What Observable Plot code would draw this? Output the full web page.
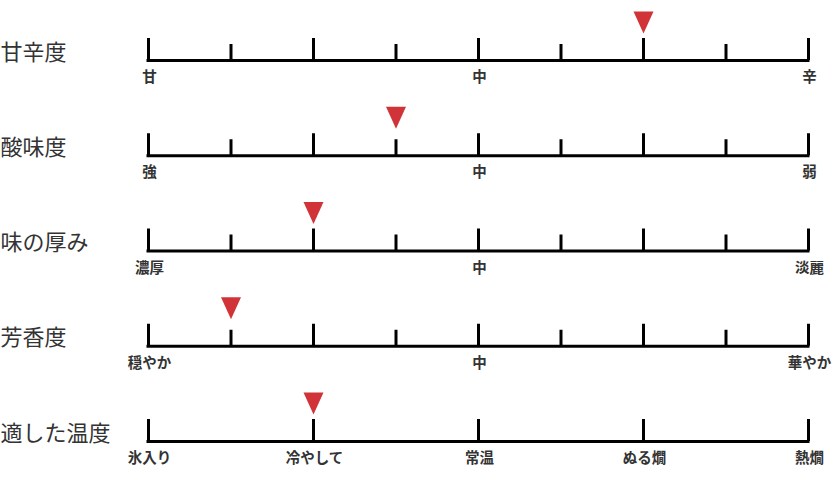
<!DOCTYPE html>
<html>
<head>
<meta charset="utf-8">
<script src="https://cdn.jsdelivr.net/npm/d3@7"></script>
<script src="https://cdn.jsdelivr.net/npm/@observablehq/plot@0.6"></script>
<style>
  html, body { margin: 0; padding: 0; background: #fff; }
  #chart svg { display: block; }
</style>
</head>
<body>
<div id="chart"></div>
<script>
// ---- data ----
const rows = ["甘辛度", "酸味度", "味の厚み", "芳香度", "適した温度"];
const values = [6, 3, 2, 1, 2];
const scaleLabels = [
  ["甘", "中", "辛"],
  ["強", "中", "弱"],
  ["濃厚", "中", "淡麗"],
  ["穏やか", "中", "華やか"],
  ["氷入り", "冷やして", "常温", "ぬる燗", "熱燗"]
];
const steps = [0, 1, 2, 3, 4, 5, 6, 7, 8];
const tempSteps = [0, 2, 4, 6, 8];

// ---- derived tables ----
const rowData = rows.map((name, i) => ({name, row: i, value: values[i]}));
const tickData = [];
rows.forEach((name, i) => {
  const s = i === 4 ? tempSteps : steps;
  s.forEach(p => tickData.push({row: i, pos: p, major: p % 2 === 0}));
});
const labelData = [];
scaleLabels.forEach((labs, i) => {
  const n = labs.length;
  labs.forEach((t, k) => labelData.push({row: i, pos: k * 8 / (n - 1), text: t}));
});

const yRange = [60, 441];
const unit = (yRange[1] - yRange[0]) / (rows.length - 1);
const majorH = 22 / unit, minorH = 16 / unit;

const downTriangle = {
  draw(ctx, size) {
    const s = Math.sqrt(size / Math.PI);
    ctx.moveTo(-s, -1.1 * s);
    ctx.lineTo(s, -1.1 * s);
    ctx.lineTo(0, 1.1 * s);
    ctx.closePath();
  }
};

const font = "'Noto Sans CJK JP', 'Noto Sans', sans-serif";

const chart = Plot.plot({
  width: 832,
  height: 495,
  marginLeft: 0, marginRight: 0, marginTop: 0, marginBottom: 0,
  style: {fontFamily: font, background: "#fff"},
  x: {domain: [0, 8], range: [148, 808], axis: null},
  y: {domain: [0, rows.length - 1], range: yRange, axis: null},
  marks: [
    Plot.ruleY(rowData, {y: "row", x1: 0, x2: 8, stroke: "#000", strokeWidth: 3, strokeLinecap: "square"}),
    Plot.ruleX(tickData, {
      x: "pos",
      y1: "row",
      y2: d => d.row - (d.major ? majorH : minorH),
      stroke: "#000",
      strokeWidth: 3
    }),
    Plot.dot(rowData, {
      x: "value", y: "row", dy: -38, r: 10,
      symbol: downTriangle, fill: "#d13438", stroke: "none"
    }),
    Plot.text(labelData, {
      x: "pos", y: "row", text: "text", dy: 17, dx: 1,
      fontSize: 14.5, fontWeight: "bold", fill: "#333", lineAnchor: "middle",
      style: {letterSpacing: "2.5px"}
    }),
    Plot.text(rowData, {
      y: "row", text: "name", frameAnchor: "left", textAnchor: "start", dy: -8,
      fontSize: 22, fill: "#333", lineAnchor: "middle",
      style: {letterSpacing: "1.5px"}
    })
  ]
});
document.getElementById("chart").appendChild(chart);
</script>
</body>
</html>
